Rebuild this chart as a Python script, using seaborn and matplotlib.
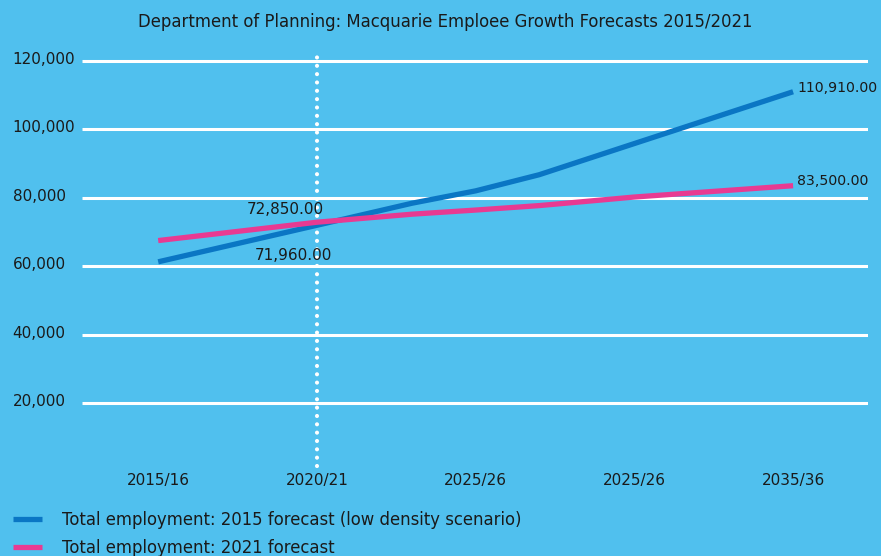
import matplotlib
matplotlib.use("Agg")
import matplotlib.pyplot as plt
import matplotlib.transforms as mtransforms
import seaborn as sns
import pandas as pd
from matplotlib.ticker import FuncFormatter
from matplotlib.lines import Line2D

# ---- data ----
years = [2016, 2021, 2024, 2026, 2028, 2031, 2036]
blue_2015_forecast = [61300, 71960, 78400, 82000, 86700, 95800, 110910]
pink_2021_forecast = [67500, 72850, 75200, 76400, 77700, 80200, 83500]
series_names = ["Total employment: 2015 forecast (low density scenario)",
                "Total employment: 2021 forecast"]
tick_years = [2016, 2021, 2026, 2031, 2036]
tick_labels = ["2015/16", "2020/21", "2025/26", "2025/26", "2035/36"]
y_ticks = [20000, 40000, 60000, 80000, 100000, 120000]
marker_year = 2021
title = "Department of Planning: Macquarie Emploee Growth Forecasts 2015/2021"

BG = "#50C0EE"
BLUE = "#0A76C4"
PINK = "#E83A92"
TXT = "#1a1a1a"

df = pd.concat([
    pd.DataFrame({"year": years, "value": blue_2015_forecast, "series": series_names[0]}),
    pd.DataFrame({"year": years, "value": pink_2021_forecast, "series": series_names[1]}),
])

sns.set_style("white")
plt.rcParams["font.family"] = ["DejaVu Sans"]

fig = plt.figure(figsize=(8.81, 5.56), dpi=100, facecolor=BG)
ax = fig.add_axes([82 / 881, 1 - 472 / 556, (868 - 82) / 881, (472 - 52) / 556])
ax.set_facecolor(BG)

ax.set_xlim(2013.6, 2038.36)
ax.set_ylim(0, 122500)

for v in y_ticks:
    ax.axhline(v, color="white", lw=2.2, zorder=1)

ax.vlines(marker_year, 1700, 122500, colors="white", lw=3,
          linestyles=[(0, (0.001, 2.0))], zorder=2)
for coll in ax.collections:
    coll.set_capstyle("round")

sns.lineplot(data=df, x="year", y="value", hue="series",
             palette=[BLUE, PINK], linewidth=3.8, ax=ax, legend=False, zorder=3)
for ln in ax.lines:
    ln.set_solid_capstyle("butt")

# data labels
fs = 11
lfs = 10.2
ax.annotate(f"{pink_2021_forecast[1]:,.2f}", (marker_year, pink_2021_forecast[1]),
            xytext=(-32, 13), textcoords="offset pixels", ha="center", va="center",
            fontsize=11, color=TXT)
ax.annotate(f"{blue_2015_forecast[1]:,.2f}", (marker_year, blue_2015_forecast[1]),
            xytext=(-23, -30), textcoords="offset pixels", ha="center", va="center",
            fontsize=11, color=TXT)
ax.annotate(f"{blue_2015_forecast[-1]:,.2f}", (years[-1], blue_2015_forecast[-1]),
            xytext=(4, 4), textcoords="offset pixels", ha="left", va="center",
            fontsize=lfs, color=TXT)
ax.annotate(f"{pink_2021_forecast[-1]:,.2f}", (years[-1], pink_2021_forecast[-1]),
            xytext=(4, 5), textcoords="offset pixels", ha="left", va="center",
            fontsize=lfs, color=TXT)

ax.set_yticks(y_ticks)
ax.yaxis.set_major_formatter(FuncFormatter(lambda v, p: f"{int(v):,}"))
ax.set_xticks(tick_years)
ax.set_xticklabels(tick_labels)
ax.tick_params(axis="y", length=0, pad=50, labelsize=fs, labelcolor=TXT)
ax.tick_params(axis="x", length=0, pad=1, labelsize=fs, labelcolor=TXT)
up = mtransforms.ScaledTranslation(0, 3 / 100, fig.dpi_scale_trans)
for lbl in ax.get_yticklabels():
    lbl.set_horizontalalignment("left")
    lbl.set_transform(lbl.get_transform() + up)
ax.set_xlabel("")
ax.set_ylabel("")
for s in ax.spines.values():
    s.set_visible(False)

fig.text(445 / 881, 1 - 22 / 556, title, ha="center", va="center", fontsize=11.9, color=TXT)

handles = [Line2D([], [], color=BLUE, lw=3.8, solid_capstyle="butt"),
           Line2D([], [], color=PINK, lw=3.8, solid_capstyle="butt")]
fig.legend(handles, series_names, loc="upper left", bbox_to_anchor=(13 / 881, 1 - 511 / 556),
           frameon=False, fontsize=11.9, handlelength=1.75, handletextpad=1.2,
           borderpad=0, borderaxespad=0, labelspacing=0.58, labelcolor=TXT)

fig.savefig("out.png", dpi=100, facecolor=BG)
